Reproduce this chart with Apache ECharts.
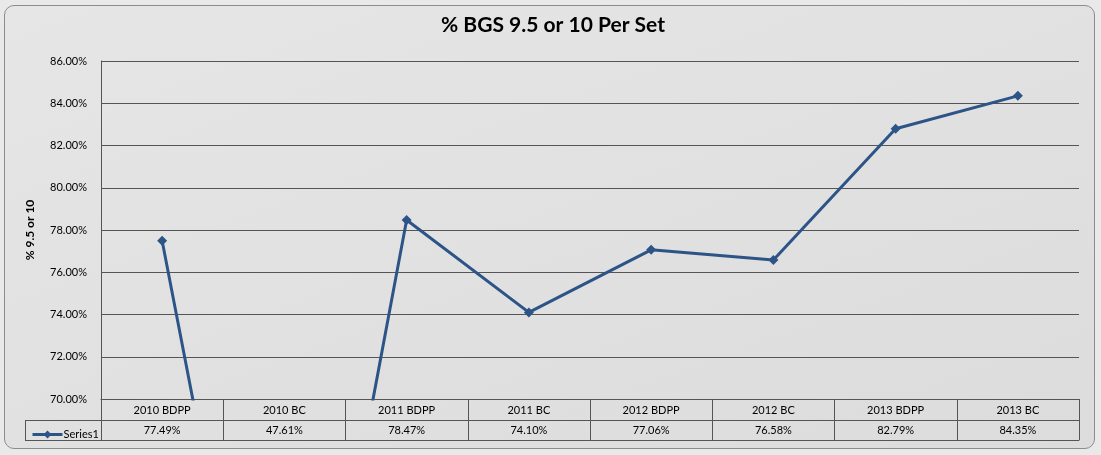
<!DOCTYPE html>
<html>
<head>
<meta charset="utf-8">
<script src="https://cdn.jsdelivr.net/npm/echarts@6/dist/echarts.min.js"></script>
<style>
  html, body { margin: 0; padding: 0; background: #e9e9e9; }
  #frame {
    position: absolute; left: 4px; top: 5px; width: 1089px; height: 442px;
    border: 1px solid #8c8c8c; border-radius: 10px;
    background: linear-gradient(160deg, #e6e6e6 0%, #dcdcdc 100%);
  }
  #main { position: absolute; left: 0; top: 0; width: 1101px; height: 455px; }
</style>
</head>
<body>
<div id="frame"></div>
<div id="main"></div>
<script>
// 数据
var categories = ['2010 BDPP', '2010 BC', '2011 BDPP', '2011 BC', '2012 BDPP', '2012 BC', '2013 BDPP', '2013 BC'];
var seriesValues = [77.49, 47.61, 78.47, 74.10, 77.06, 76.58, 82.79, 84.35];
var yMin = 70, yMax = 86, yStep = 2;

var chart = echarts.init(document.getElementById('main'), null, { renderer: 'canvas' });
var font = 'Lato, "Open Sans", sans-serif';
var lineCol = '#555555';

var option = {
  backgroundColor: 'transparent',
  animation: false,
  textStyle: { fontFamily: font },
  title: {
    text: '% BGS 9.5 or 10 Per Set',
    left: 548,
    textAlign: 'center',
    top: 10,
    textStyle: { fontFamily: font, fontSize: 21, fontWeight: 'bold', color: '#000' }
  },
  legend: {
    left: 26,
    top: 424,
    itemWidth: 30,
    itemHeight: 10,
    itemGap: 2,
    lineStyle: { width: 3 },
    textStyle: { fontFamily: font, fontSize: 11, color: '#000', padding: [0, 0, 0, -4] },
    data: ['Series1']
  },
  grid: { left: 101, right: 22, top: 61, bottom: 56 },
  xAxis: [{
    type: 'category',
    data: categories,
    boundaryGap: true,
    axisLine: { show: true, lineStyle: { color: lineCol, width: 1 } },
    axisTick: { show: true, interval: 0, length: 41, lineStyle: { color: lineCol, width: 1 } },
    axisLabel: { interval: 0, margin: 6, fontSize: 11, color: '#000', fontFamily: font },
    splitLine: { show: false }
  }, {
    type: 'category',
    position: 'bottom',
    offset: 21,
    data: seriesValues.map(function (v) { return v.toFixed(2) + '%'; }),
    boundaryGap: true,
    axisLine: { show: true, lineStyle: { color: lineCol, width: 1 } },
    axisTick: { show: false },
    axisLabel: { interval: 0, margin: 5, fontSize: 11, color: '#000', fontFamily: font },
    splitLine: { show: false }
  }, {
    type: 'category',
    position: 'bottom',
    offset: 41,
    data: categories,
    boundaryGap: true,
    axisLine: { show: true, lineStyle: { color: lineCol, width: 1 } },
    axisTick: { show: false },
    axisLabel: { show: false }
  }],
  yAxis: {
    type: 'value',
    min: yMin,
    max: yMax,
    interval: yStep,
    name: '% 9.5 or 10',
    nameLocation: 'middle',
    nameGap: 65,
    nameTextStyle: { fontFamily: font, fontSize: 12, fontWeight: 'bold', color: '#000' },
    axisLine: { show: true, lineStyle: { color: lineCol, width: 1 } },
    axisTick: { show: false },
    axisLabel: {
      margin: 14, fontSize: 11, color: '#000', fontFamily: font,
      formatter: function (v) { return v.toFixed(2) + '%'; }
    },
    splitLine: { show: true, lineStyle: { color: lineCol, width: 1 } }
  },
  graphic: [
    // legend cell of the data table
    { type: 'line', shape: { x1: 25, y1: 420.5, x2: 101, y2: 420.5 }, style: { stroke: lineCol, lineWidth: 1 } },
    { type: 'line', shape: { x1: 25, y1: 440.5, x2: 101, y2: 440.5 }, style: { stroke: lineCol, lineWidth: 1 } },
    { type: 'line', shape: { x1: 25.5, y1: 420, x2: 25.5, y2: 441 }, style: { stroke: lineCol, lineWidth: 1 } }
  ],
  series: [{
    name: 'Series1',
    type: 'line',
    data: seriesValues,
    clip: true,
    symbol: 'diamond',
    symbolSize: 10,
    showAllSymbol: true,
    lineStyle: { color: '#2d5487', width: 3 },
    itemStyle: { color: '#2d5487' }
  }]
};

chart.setOption(option);
</script>
</body>
</html>
